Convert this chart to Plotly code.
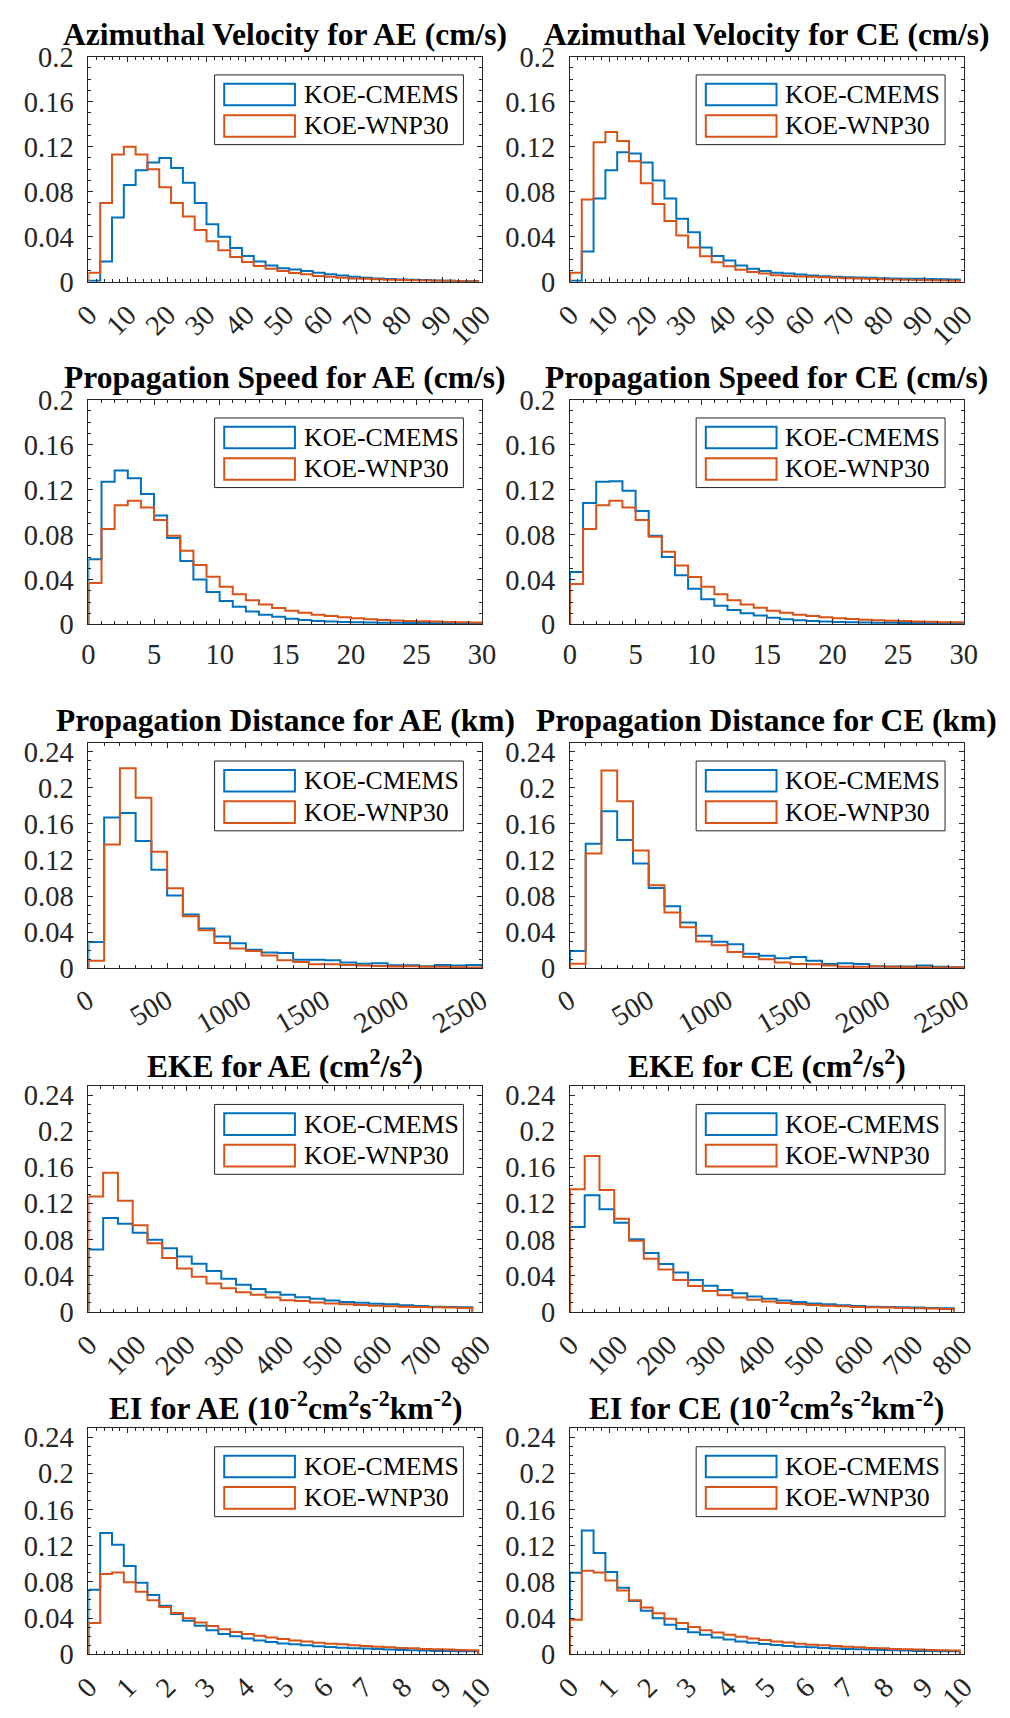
import plotly.graph_objects as go

# ---------------- data ----------------
SERIES_NAMES = ["KOE-CMEMS", "KOE-WNP30"]

TITLES = [
    "Azimuthal Velocity for AE (cm/s)", "Azimuthal Velocity for CE (cm/s)",
    "Propagation Speed for AE (cm/s)", "Propagation Speed for CE (cm/s)",
    "Propagation Distance for AE (km)", "Propagation Distance for CE (km)",
    "EKE for AE (cm<sup>2</sup>/s<sup>2</sup>)", "EKE for CE (cm<sup>2</sup>/s<sup>2</sup>)",
    "EI for AE (10<sup>-2</sup>cm<sup>2</sup>s<sup>-2</sup>km<sup>-2</sup>)",
    "EI for CE (10<sup>-2</sup>cm<sup>2</sup>s<sup>-2</sup>km<sup>-2</sup>)",
]

# bin widths per row (bins start at 0)
BIN_WIDTHS = [3, 1, 100, 30, 0.3]

AV_AE_CMEMS = [0.001, 0.018, 0.057, 0.086, 0.099, 0.106, 0.110, 0.101, 0.088, 0.070, 0.051, 0.040, 0.030, 0.023,
               0.018, 0.0145, 0.012, 0.011, 0.0095, 0.008, 0.0067, 0.0055, 0.0045, 0.0035, 0.003, 0.0025, 0.002,
               0.0018, 0.0015, 0.0012, 0.001, 0.0008, 0.0006]
AV_AE_WNP30 = [0.008, 0.070, 0.113, 0.120, 0.113, 0.100, 0.084, 0.070, 0.058, 0.046, 0.036, 0.028, 0.022, 0.0175,
               0.014, 0.0116, 0.0096, 0.0078, 0.0067, 0.0052, 0.0044, 0.0035, 0.003, 0.0026, 0.0022, 0.0019, 0.0016,
               0.0014, 0.0012, 0.001, 0.0009, 0.0007, 0.0005]
AV_CE_CMEMS = [0.001, 0.027, 0.074, 0.099, 0.115, 0.114, 0.106, 0.090, 0.074, 0.056, 0.044, 0.0305, 0.023, 0.019,
               0.0145, 0.0116, 0.0096, 0.008, 0.0073, 0.0064, 0.0055, 0.005, 0.0044, 0.004, 0.0038, 0.0035, 0.0032,
               0.003, 0.0028, 0.0026, 0.0024, 0.0022, 0.002]
AV_CE_WNP30 = [0.008, 0.073, 0.124, 0.133, 0.125, 0.107, 0.0875, 0.069, 0.054, 0.041, 0.0305, 0.0227, 0.0174, 0.0137,
               0.0108, 0.0087, 0.0073, 0.0058, 0.0052, 0.0047, 0.0044, 0.004, 0.0036, 0.0032, 0.0029, 0.0026, 0.0023,
               0.002, 0.0018, 0.0016, 0.0014, 0.0012, 0.001]

PS_AE_CMEMS = [0.058, 0.127, 0.137, 0.130, 0.116, 0.097, 0.077, 0.0565, 0.040, 0.029, 0.021, 0.0157, 0.0116, 0.0087,
               0.007, 0.0052, 0.004, 0.0032, 0.0026, 0.0023, 0.002, 0.0018, 0.0016, 0.0015, 0.0014, 0.0013, 0.0012,
               0.0011, 0.001, 0.001]
PS_AE_WNP30 = [0.037, 0.085, 0.106, 0.110, 0.104, 0.093, 0.079, 0.0655, 0.053, 0.0425, 0.0335, 0.0268, 0.0215, 0.0178,
               0.0146, 0.0122, 0.0105, 0.0087, 0.0076, 0.0064, 0.0055, 0.0047, 0.004, 0.0035, 0.0032, 0.0029, 0.0026,
               0.0023, 0.002, 0.0018]
PS_CE_CMEMS = [0.0466, 0.108, 0.127, 0.1275, 0.119, 0.101, 0.079, 0.060, 0.0437, 0.0317, 0.0224, 0.0166, 0.0128,
               0.0099, 0.0079, 0.0061, 0.0047, 0.0038, 0.0032, 0.0026, 0.0023, 0.002, 0.0018, 0.0016, 0.0015, 0.0014,
               0.0013, 0.0012, 0.0011, 0.001]
PS_CE_WNP30 = [0.036, 0.085, 0.106, 0.110, 0.104, 0.093, 0.078, 0.0646, 0.0524, 0.0422, 0.0335, 0.0268, 0.0215, 0.0178,
               0.0149, 0.0122, 0.0105, 0.0087, 0.0076, 0.0064, 0.0055, 0.0048, 0.0042, 0.0037, 0.0033, 0.003, 0.0027,
               0.0024, 0.0021, 0.0019]

PD_AE_CMEMS = [0.029, 0.167, 0.172, 0.141, 0.109, 0.0805, 0.0595, 0.044, 0.035, 0.0276, 0.0203, 0.0174, 0.0167, 0.0094,
               0.0094, 0.0087, 0.0062, 0.005, 0.0054, 0.0033, 0.0033, 0.0022, 0.0036, 0.003, 0.0036]
PD_AE_WNP30 = [0.0083, 0.137, 0.2215, 0.189, 0.129, 0.0885, 0.0577, 0.042, 0.028, 0.0218, 0.019, 0.0141, 0.0087,
               0.0069, 0.0044, 0.0044, 0.0036, 0.003, 0.0025, 0.0018, 0.0022, 0.0015, 0.0015, 0.001, 0.0008]
PD_CE_CMEMS = [0.019, 0.138, 0.174, 0.142, 0.116, 0.089, 0.0686, 0.0505, 0.036, 0.0294, 0.0265, 0.016, 0.0138, 0.0109,
               0.0123, 0.0083, 0.0047, 0.0054, 0.0047, 0.0022, 0.0018, 0.0018, 0.0029, 0.0015, 0.0011]
PD_CE_WNP30 = [0.005, 0.127, 0.219, 0.185, 0.1305, 0.092, 0.0616, 0.0453, 0.0297, 0.0254, 0.018, 0.0123, 0.0098,
               0.0062, 0.0047, 0.0043, 0.0029, 0.0015, 0.0015, 0.0018, 0.0015, 0.0011, 0.0011, 0.0007, 0.0007]

EKE_AE_CMEMS = [0.069, 0.104, 0.0975, 0.0877, 0.0798, 0.0703, 0.0613, 0.0533, 0.0453, 0.0366, 0.0301, 0.0254, 0.0218,
                0.0189, 0.0163, 0.0145, 0.0127, 0.0109, 0.0102, 0.0091, 0.0083, 0.0073, 0.0065, 0.0058, 0.0054, 0.0051]
EKE_AE_WNP30 = [0.1276, 0.154, 0.123, 0.096, 0.076, 0.0595, 0.0479, 0.0388, 0.0315, 0.0261, 0.0218, 0.0189, 0.016,
                0.013, 0.012, 0.0105, 0.0094, 0.0083, 0.0076, 0.0069, 0.0062, 0.0058, 0.0054, 0.0051, 0.0047, 0.0043]
EKE_CE_CMEMS = [0.094, 0.129, 0.1135, 0.0986, 0.0805, 0.0653, 0.0529, 0.0435, 0.0352, 0.029, 0.0243, 0.0207, 0.017,
                0.0145, 0.0127, 0.0109, 0.0094, 0.0083, 0.0073, 0.0065, 0.0058, 0.0054, 0.0051, 0.0047, 0.0044, 0.004]
EKE_CE_WNP30 = [0.1356, 0.1726, 0.135, 0.103, 0.0787, 0.0587, 0.0468, 0.0352, 0.0286, 0.0232, 0.0185, 0.016, 0.0134,
                0.0116, 0.0098, 0.0087, 0.0076, 0.0069, 0.0062, 0.0054, 0.0051, 0.0047, 0.0044, 0.004, 0.0036, 0.0033]

EI_AE_CMEMS = [0.0713, 0.134, 0.121, 0.0977, 0.079, 0.0655, 0.0536, 0.0445, 0.037, 0.0315, 0.0264, 0.0224, 0.0199,
               0.0174, 0.0152, 0.0134, 0.0119, 0.0109, 0.0098, 0.0087, 0.008, 0.0072, 0.0065, 0.0062, 0.0058, 0.0051,
               0.0047, 0.0043, 0.004, 0.0036, 0.0036, 0.0033, 0.0033]
EI_AE_WNP30 = [0.0344, 0.0887, 0.0905, 0.0797, 0.0692, 0.0597, 0.0521, 0.0456, 0.0398, 0.0351, 0.0311, 0.0275, 0.0246,
               0.0224, 0.0203, 0.0185, 0.0167, 0.0152, 0.0141, 0.0127, 0.0116, 0.0109, 0.0098, 0.009, 0.0083, 0.0076,
               0.0069, 0.0065, 0.0058, 0.0054, 0.0051, 0.0047, 0.0043]
EI_CE_CMEMS = [0.090, 0.137, 0.112, 0.0909, 0.0735, 0.059, 0.0482, 0.0398, 0.0326, 0.0279, 0.0243, 0.0214, 0.0185,
               0.0163, 0.0141, 0.0127, 0.0112, 0.0101, 0.009, 0.0083, 0.0076, 0.0069, 0.0062, 0.0058, 0.0054, 0.0051,
               0.0047, 0.0043, 0.004, 0.0036, 0.0036, 0.0033, 0.0033]
EI_CE_WNP30 = [0.038, 0.0923, 0.0905, 0.0815, 0.0706, 0.0597, 0.0518, 0.0453, 0.0391, 0.0344, 0.030, 0.0264, 0.0239,
               0.0214, 0.0192, 0.0174, 0.0156, 0.0141, 0.013, 0.0116, 0.0105, 0.0098, 0.009, 0.0083, 0.0076, 0.0069,
               0.0065, 0.0058, 0.0054, 0.0051, 0.0047, 0.0043, 0.004]

PANEL_DATA = [
    (AV_AE_CMEMS, AV_AE_WNP30), (AV_CE_CMEMS, AV_CE_WNP30),
    (PS_AE_CMEMS, PS_AE_WNP30), (PS_CE_CMEMS, PS_CE_WNP30),
    (PD_AE_CMEMS, PD_AE_WNP30), (PD_CE_CMEMS, PD_CE_WNP30),
    (EKE_AE_CMEMS, EKE_AE_WNP30), (EKE_CE_CMEMS, EKE_CE_WNP30),
    (EI_AE_CMEMS, EI_AE_WNP30), (EI_CE_CMEMS, EI_CE_WNP30),
]

# x tick values / labels per row
X_TICKS = [
    [0, 10, 20, 30, 40, 50, 60, 70, 80, 90, 100],
    [0, 5, 10, 15, 20, 25, 30],
    [0, 500, 1000, 1500, 2000, 2500],
    [0, 100, 200, 300, 400, 500, 600, 700, 800],
    [0, 1, 2, 3, 4, 5, 6, 7, 8, 9, 10],
]
X_TICK_LABELS = [[str(v) for v in t] for t in X_TICKS]
Y_TICKS_A = [0, 0.04, 0.08, 0.12, 0.16, 0.2]
Y_TICK_LABELS_A = ["0", "0.04", "0.08", "0.12", "0.16", "0.2"]
Y_TICKS_B = [0, 0.04, 0.08, 0.12, 0.16, 0.2, 0.24]
Y_TICK_LABELS_B = ["0", "0.04", "0.08", "0.12", "0.16", "0.2", "0.24"]

# ---------------- styling / layout ----------------
W, H = 1010, 1718
COLORS = ["#0072BD", "#D95319"]
AX_COLOR = "#262626"
FONT = "Liberation Serif"
TICK_SIZE = 28.5
LEG_SIZE = 25.8
TITLE_SIZE = 31.5

COL_PX = [(72.7, 479.3), (570.0, 976.7)]
ROW_PX = [(42.3, 271.7), (391.7, 620.7), (741.0, 970.7), (1090.7, 1320.7), (1439.3, 1669.3)]
X_RANGES = [[0, 100], [0, 30], [0, 2500], [0, 800], [0, 10]]
Y_RANGES = [[0, 0.2], [0, 0.2], [0, 0.25], [0, 0.25], [0, 0.25]]
X_ANGLES = [-45, 0, -30, -45, -45]
X_MINOR = [2, 1, 100, 25, 0.2]

fig = go.Figure()
layout = dict(width=W, height=H, margin=dict(l=0, r=0, t=0, b=0),
              paper_bgcolor="white", plot_bgcolor="white", showlegend=False,
              font=dict(family=FONT, color=AX_COLOR))
shapes, annotations = [], []

for k in range(10):
    row, col = divmod(k, 2)
    n = k + 1
    xs = "x" if n == 1 else f"x{n}"
    ys = "y" if n == 1 else f"y{n}"
    xa = "xaxis" if n == 1 else f"xaxis{n}"
    ya = "yaxis" if n == 1 else f"yaxis{n}"
    bw = BIN_WIDTHS[row]
    for s, vals in enumerate(PANEL_DATA[k]):
        edges = [i * bw for i in range(len(vals) + 1)]
        x = [edges[0]] + edges + [edges[-1]]
        y = [0] + list(vals) + [vals[-1], 0]
        fig.add_trace(go.Scatter(x=x, y=y, mode="lines", line=dict(color=COLORS[s], width=2, shape="hv"),
                                 name=SERIES_NAMES[s], xaxis=xs, yaxis=ys, hoverinfo="skip"))
    x0, x1 = COL_PX[col]
    t0, t1 = ROW_PX[row]
    yt, ytl = (Y_TICKS_A, Y_TICK_LABELS_A) if row < 2 else (Y_TICKS_B, Y_TICK_LABELS_B)
    layout[xa] = dict(domain=[x0 / W, x1 / W], anchor=ys, range=X_RANGES[row],
                      tickvals=X_TICKS[row], ticktext=X_TICK_LABELS[row], tickangle=X_ANGLES[row],
                      ticks="inside", ticklen=5, tickcolor=AX_COLOR, tickwidth=1,
                      showline=True, linecolor=AX_COLOR, linewidth=1, mirror="allticks",
                      showgrid=False, zeroline=False, ticklabelstandoff=4,
                      tickfont=dict(family=FONT, size=TICK_SIZE, color=AX_COLOR),
                      minor=dict(ticks="inside", ticklen=3, dtick=X_MINOR[row], tickcolor=AX_COLOR, showgrid=False))
    layout[ya] = dict(domain=[1 - t1 / H, 1 - t0 / H], anchor=xs, range=Y_RANGES[row],
                      tickvals=yt, ticktext=ytl,
                      ticks="inside", ticklen=5, tickcolor=AX_COLOR, tickwidth=1,
                      showline=True, linecolor=AX_COLOR, linewidth=1, mirror="allticks",
                      showgrid=False, zeroline=False, ticklabelstandoff=8,
                      tickfont=dict(family=FONT, size=TICK_SIZE, color=AX_COLOR),
                      minor=dict(ticks="inside", ticklen=3, dtick=0.01, tickcolor=AX_COLOR, showgrid=False))
    xd, yd = f"{xs} domain", f"{ys} domain"
    # title
    annotations.append(dict(text=f"<b>{TITLES[k]}</b>", xref=xd, yref=yd, x=0.5, y=1, xanchor="center",
                            yanchor="middle", yshift=22, showarrow=False,
                            font=dict(family=FONT, size=TITLE_SIZE, color="black")))
    # legend box
    shapes.append(dict(type="rect", xref=xd, yref=yd, x0=0.3205, x1=0.9525, y0=0.609, y1=0.9185,
                       line=dict(color=AX_COLOR, width=1), fillcolor="white", layer="above"))
    for s, (ya0, ya1, ty) in enumerate([(0.7833, 0.879, 0.831), (0.6439, 0.7398, 0.692)]):
        shapes.append(dict(type="rect", xref=xd, yref=yd, x0=0.345, x1=0.5246, y0=ya0, y1=ya1,
                           line=dict(color=COLORS[s], width=2), fillcolor="white", layer="above"))
        annotations.append(dict(text=SERIES_NAMES[s], xref=xd, yref=yd, x=0.5418, y=ty, xanchor="left",
                                yanchor="middle", showarrow=False,
                                font=dict(family=FONT, size=LEG_SIZE, color="black")))

layout["shapes"] = shapes
layout["annotations"] = annotations
fig.update_layout(**layout)
fig.write_html("out.html")
